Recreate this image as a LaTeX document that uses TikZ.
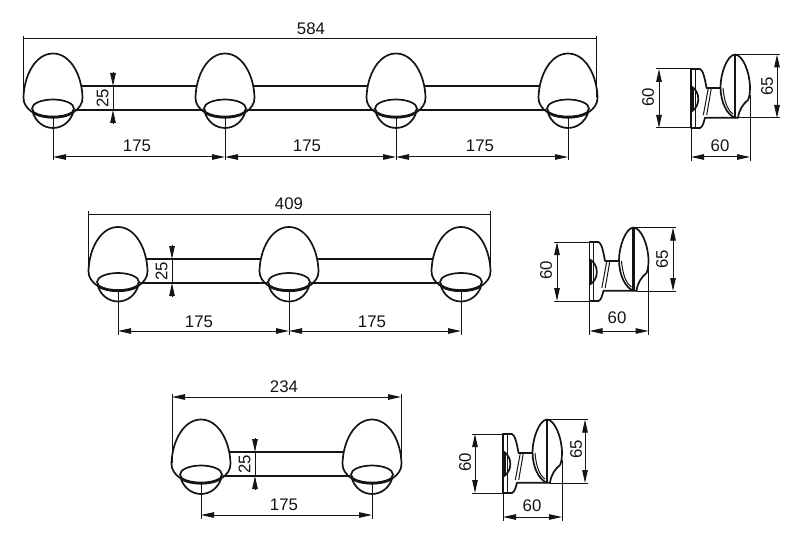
\documentclass[tikz,border=0pt]{standalone}
\usepackage{fontspec}
\setmainfont{Liberation Sans}
\usetikzlibrary{calc,arrows.meta}
\definecolor{ink}{HTML}{141414}
\tikzset{
  body/.style={draw=ink, line width=1.7pt, line cap=round, line join=round},
  thin/.style={draw=ink, line width=1.0pt},
  thick/.style={draw=ink, line width=2.8pt},
  dimline/.style={draw=ink, line width=1.0pt},
  dimarrow/.style={dimline, {Triangle[length=13pt,width=5.5pt]}-{Triangle[length=13pt,width=5.5pt]}},
  dimtip/.style={dimline, -{Triangle[length=13pt,width=5.5pt]}},
  lab/.style={text=ink, font=\fontsize{16.8}{17}\selectfont, inner sep=0pt},
  knob/.pic={
    \draw[body] (-21,58.5) .. controls (-26,55) and (-29.8,50) .. (-29.5,44)
      .. controls (-29,22) and (-17.5,0) .. (0,0)
      .. controls (17.5,0) and (29,22) .. (29.5,44)
      .. controls (29.8,50) and (26,55) .. (21,58.5);
    \draw[body] (0,55) ellipse (21 and 9);
    \draw[body] (-20.5,58) .. controls (-17.5,68.5) and (-9,74.5) .. (0,74.5)
      .. controls (9,74.5) and (17.5,68.5) .. (20.5,58);
    \draw[thick] (-19,59.5) .. controls (-10,65) and (10,65) .. (19,59.5);
  },
  sideview/.pic={
    % plate
    \draw[body] (9,0) -- (0,0) -- (0,59) -- (9,59);
    \draw[thin] (4,0) -- (4,59);
    \draw[body] (9,0) .. controls (12,1) and (14,10) .. (15.5,19) -- (29,19);
    \draw[body] (9,59) .. controls (12,58) and (13,52) .. (14,48.7) -- (47,48.7);
    \draw[thin] (17.3,19.3) -- (12.3,46);
    \draw[thin] (20.3,19.3) -- (15.7,46);
    \draw[body] (0.5,17.5) .. controls (5,20) and (7.3,25) .. (7.3,30) .. controls (7.3,35) and (5,40) .. (0.5,42.5);
    \draw[thick] (1.5,18) -- (1.5,42);
    % head
    \draw[body] (44,48.7) .. controls (36,46) and (29.5,33) .. (29.5,18)
      .. controls (29.5,5) and (36,-14) .. (44,-14.5)
      .. controls (52,-14) and (59,4) .. (59,19)
      .. controls (59,25) and (58,29) .. (57,31)
      .. controls (52,35) and (48,41) .. (47,48.7);
    \draw[thick] (44,-14.5) -- (44,48.7);
    \draw[thin] (32,19) .. controls (33,31) and (36,41) .. (42,45);
  }
}
\begin{document}
\begin{tikzpicture}[x=1pt,y=-1pt]
  \useasboundingbox (0,0) rectangle (800,548);

  % rails and knobs, row by row
  \foreach \ky/\xlist in {53.5/{53,225,396,568},227/{118,289,461},419.5/{201,372}}{
    \foreach \kx in \xlist {
      \pic at (\kx,\ky) {knob};
    }
  }
  \foreach \ky/\xa/\xb in {53.5/53/225,53.5/225/396,53.5/396/568,226.5/118/289,226.5/289/461,419.5/201/372}{
    \draw[body] (\xa+29,\ky+32.5) -- (\xb-29,\ky+32.5);
    \draw[body] (\xa+22,\ky+56.5) -- (\xb-22,\ky+56.5);
  }

  % overall lengths
  \coordinate (ta) at (23.5,39);
  \coordinate (tb) at (596,39);
  \coordinate (ma) at (88.5,214);
  \coordinate (mb) at (490.5,214);
  \coordinate (ba) at (172,397);
  \coordinate (bb) at (401,397);
  \draw[dimline] (ta) -- (tb);
  \draw[dimline] (ma) -- (mb);
  \draw[dimarrow] (ba) -- (bb);
  \foreach \e/\yk in {ta/97,tb/97,ma/271,mb/271,ba/463,bb/463}{
    \draw[dimline] ($(\e)+(0,-3)$) -- (\e |- 0,\yk);
  }
  \node[lab] (topw) at (311,28.5) {584};
  \node[lab] (midw) at (289,203.5) {409};
  \node[lab] (botw) at (284,386.5) {234};

  % pitch
  \foreach \px/\py/\pstart/\name in {53/157/118/a,225/157/118/b,396/157/118/c,568/157/118/d,118/331/291/e,289/331/291/f,461/331/291/g,201/515/483.5/h,372/515/483.5/j}{
    \coordinate (p\name) at (\px,\py);
    \draw[dimline] (\px,\pstart) -- (\px,\py+3.5);
  }
  \draw[dimarrow] (pa) -- (pb);
  \draw[dimarrow] (pb) -- (pc);
  \draw[dimarrow] (pc) -- (pd);
  \draw[dimarrow] (pe) -- (pf);
  \draw[dimarrow] (pf) -- (pg);
  \draw[dimarrow] (ph) -- (pj);
  \node[lab] (pitcha) at (137,146) {175};
  \node[lab] (pitchb) at (307,146) {175};
  \node[lab] (pitchc) at (480,146) {175};
  \node[lab] (pitchd) at (199,322) {175};
  \node[lab] (pitche) at (372,322) {175};
  \node[lab] (pitchf) at (284,505) {175};

  % rail spacing
  \foreach \rx/\ry/\name in {113/53.5/a,172/226.5/b,255/419.5/c}{
    \coordinate (ra\name) at (\rx,\ry+32.5);
    \coordinate (rb\name) at (\rx,\ry+56.5);
    \draw[dimtip] (\rx,\ry+18.5) -- (ra\name);
    \draw[dimtip] (\rx,\ry+69.5) -- (rb\name);
    \draw[dimline] (ra\name) -- (rb\name);
    \node[lab,rotate=90] (gap\name) at (\rx-10.5,\ry+44.5) {25};
  }

  % side views
  \foreach \sx/\sy/\lx/\rx/\by/\lt/\rt/\bx/\bt/\lty/\rty in {%
      691/69/659/777/157/648/767/720/146/97/86,%
      589.5/242/557/673/331/546/662/617/318/270/259,%
      503/434/475/585/517/465/576/532/506/462/449}{
    \pic at (\sx,\sy) {sideview};
    \coordinate (la) at (\lx,\sy);
    \coordinate (lb) at (\lx,\sy+59);
    \coordinate (ha) at (\rx,\sy-14.5);
    \coordinate (hb) at (\rx,\sy+49);
    \coordinate (wa) at (\sx,\by);
    \coordinate (wb) at (\sx+59,\by);
    \draw[dimline] ($(la)+(-3,0)$) -- (\sx,\sy);
    \draw[dimline] ($(lb)+(-3,0)$) -- (\sx,\sy+59);
    \draw[dimline] (\sx+44,\sy-14.5) -- ($(ha)+(3,0)$);
    \draw[dimline] (\sx+47,\sy+49) -- ($(hb)+(3,0)$);
    \draw[dimline] (\sx,\sy+59) -- ($(wa)+(0,4)$);
    \draw[dimline] (\sx+59,\sy+26) -- ($(wb)+(0,4)$);
    \draw[dimarrow] (la) -- (lb);
    \draw[dimarrow] (ha) -- (hb);
    \draw[dimarrow] (wa) -- (wb);
    \node[lab,rotate=90] (plate) at (\lt,\lty) {60};
    \node[lab,rotate=90] (head) at (\rt,\rty) {65};
    \node[lab] (depth) at (\bx,\bt) {60};
  }
\end{tikzpicture}
\end{document}
